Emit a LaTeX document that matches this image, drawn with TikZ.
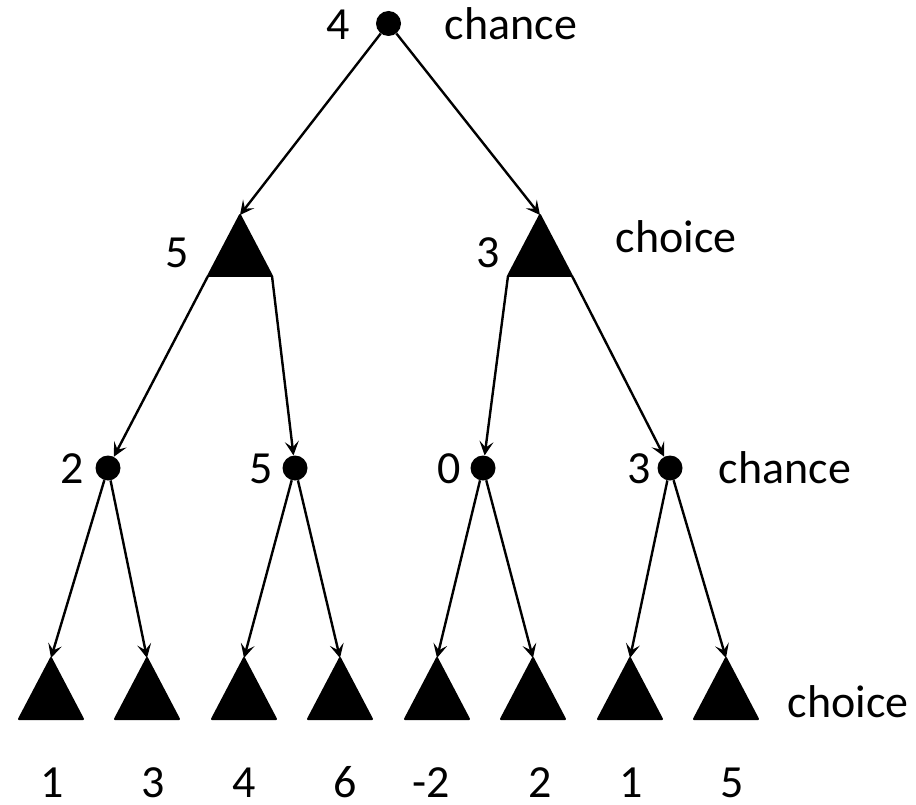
\documentclass[tikz,border=0pt]{standalone}
\usepackage{fontspec}
\setmainfont{Carlito}
\usetikzlibrary{arrows.meta,calc}
\tikzset{
  chancenode/.style={circle,fill=black,inner sep=0pt,minimum size=25pt},
  trifill/.style={fill=black,draw=black,line width=2pt,line join=round},
  edge/.style={line width=2.4pt,-{Stealth[length=14pt,width=14pt,inset=6pt]}},
  lbl/.style={anchor=base,inner sep=0pt,font=\fontsize{46}{55}\selectfont},
}
\newcommand\choicetri[3]{%
  \coordinate (#1) at (#2,#3);
  \coordinate (#1-l) at ($(#1)+(-32,61)$);
  \coordinate (#1-r) at ($(#1)+(32,61)$);
  \path[trifill] (#1) -- (#1-l) -- (#1-r) -- cycle;
}
\begin{document}
\begin{tikzpicture}[x=1pt,y=-1pt]
\useasboundingbox (0,0) rectangle (916,805);
% root
\node[chancenode] (root) at (388.5,23.5) {};
% level 1
\choicetri{A}{240}{215}
\choicetri{B}{540}{215}
% level 2
\node[chancenode] (c1) at (108,468) {};
\node[chancenode] (c2) at (295,468) {};
\node[chancenode] (c3) at (483,468) {};
\node[chancenode] (c4) at (670,468) {};
% leaves
\choicetri{L1}{51}{658}
\choicetri{L2}{147}{658}
\choicetri{L3}{244}{658}
\choicetri{L4}{340}{658}
\choicetri{L5}{437}{658}
\choicetri{L6}{533}{658}
\choicetri{L7}{630}{658}
\choicetri{L8}{726}{658}
% edges
\draw[edge] (root) -- (A);
\draw[edge] (root) -- (B);
\draw[edge] (A-l) -- (c1);
\draw[edge] (A-r) -- (c2);
\draw[edge] (B-l) -- (c3);
\draw[edge] (B-r) -- (c4);
\draw[edge] (c1) -- (L1);
\draw[edge] (c1) -- (L2);
\draw[edge] (c2) -- (L3);
\draw[edge] (c2) -- (L4);
\draw[edge] (c3) -- (L5);
\draw[edge] (c3) -- (L6);
\draw[edge] (c4) -- (L7);
\draw[edge] (c4) -- (L8);
% labels
\node[lbl] (v0) at (338,40) {4};
\node[lbl] (t0) at (511,40) {chance};
\node[lbl] (vA) at (177,268) {5};
\node[lbl] (vB) at (488,268) {3};
\node[lbl] (t1) at (676,253) {choice};
\node[lbl] (v1) at (72,483) {2};
\node[lbl] (v2) at (261,483) {5};
\node[lbl] (v3) at (449,483) {0};
\node[lbl] (v4) at (639,483) {3};
\node[lbl] (t2) at (785,483) {chance};
\node[lbl] (t3) at (848,717) {choice};
\node[lbl] (w1) at (52,797) {1};
\node[lbl] (w2) at (153,797) {3};
\node[lbl] (w3) at (244,797) {4};
\node[lbl] (w4) at (345,797) {6};
\node[lbl] (w5) at (431,797) {-2};
\node[lbl] (w6) at (540,797) {2};
\node[lbl] (w7) at (631,797) {1};
\node[lbl] (w8) at (732,797) {5};
\end{tikzpicture}
\end{document}
